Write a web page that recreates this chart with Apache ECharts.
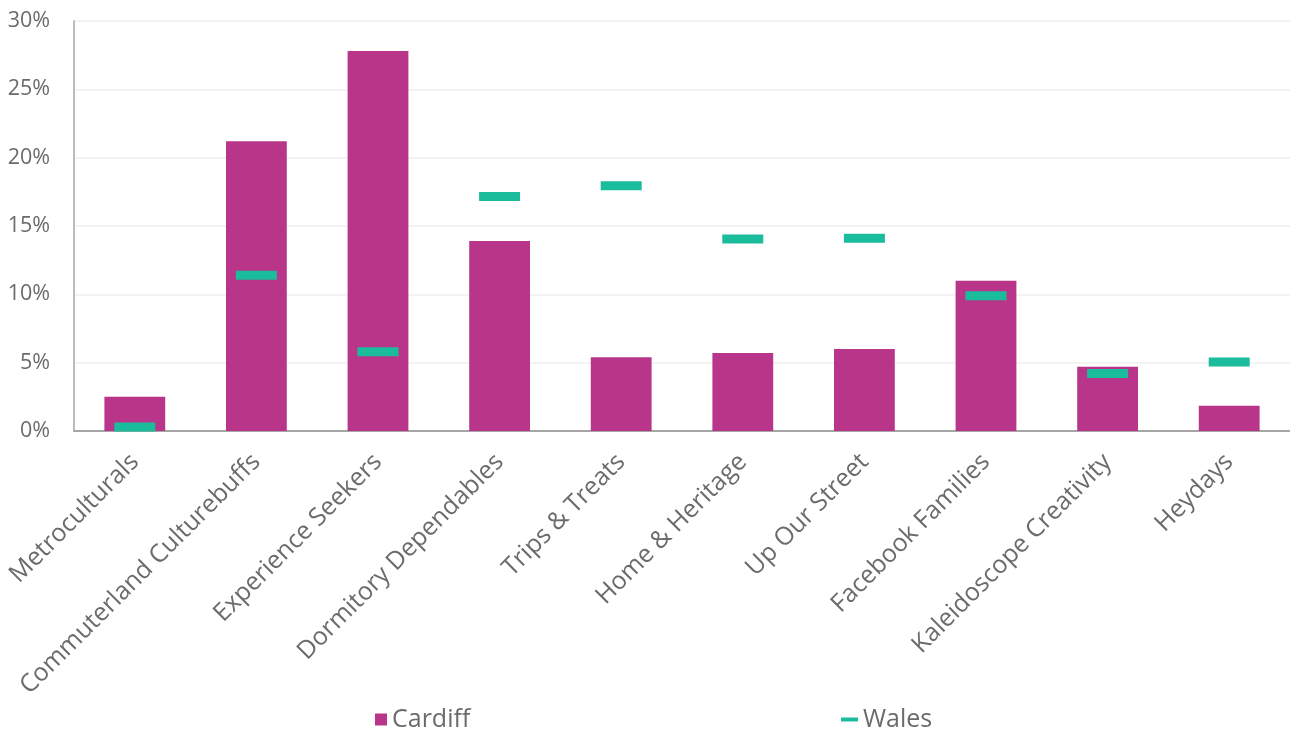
<!DOCTYPE html>
<html>
<head>
<meta charset="utf-8">
<script src="https://cdn.jsdelivr.net/npm/echarts@6/dist/echarts.min.js"></script>
<style>
html,body{margin:0;padding:0;background:#fff;}
#chart{width:1290px;height:731px;}
</style>
</head>
<body>
<div id="chart"></div>
<script>
const categories = ["Metroculturals","Commuterland Culturebuffs","Experience Seekers","Dormitory Dependables","Trips & Treats","Home & Heritage","Up Our Street","Facebook Families","Kaleidoscope Creativity","Heydays"];
const cardiff = [2.5, 21.2, 27.8, 13.9, 5.4, 5.7, 6.0, 11.0, 4.7, 1.85];
const wales = [0.3, 11.4, 5.8, 17.15, 17.95, 14.05, 14.1, 9.9, 4.2, 5.05];
const yTicks = {min: 0, max: 30, interval: 5};

const textColor = '#6b6b6b';
const font = '"Open Sans", sans-serif';
const chart = echarts.init(document.getElementById('chart'));
chart.setOption({
  animation: false,
  backgroundColor: '#ffffff',
  grid: {left: 74, right: 0, top: 21, bottom: 300, containLabel: false},
  legend: [
    {data: ['Cardiff'], left: 370, top: 702, icon: 'rect', itemWidth: 12, itemHeight: 12, itemGap: 6,
     textStyle: {color: textColor, fontSize: 25, fontFamily: font}},
    {data: ['Wales'], left: 836, top: 702, icon: 'rect', itemWidth: 17, itemHeight: 4, itemGap: 6,
     textStyle: {color: textColor, fontSize: 25, fontFamily: font}}
  ],
  xAxis: {
    type: 'category',
    data: categories,
    axisLine: {show: true, lineStyle: {color: '#a6a6a6', width: 2}},
    axisTick: {show: false},
    axisLabel: {rotate: 45, margin: 27, interval: 0, color: textColor, fontSize: 25, fontFamily: font}
  },
  yAxis: {
    type: 'value',
    min: yTicks.min, max: yTicks.max, interval: yTicks.interval,
    axisLine: {show: true, lineStyle: {color: '#a6a6a6', width: 1.5}},
    axisTick: {show: false},
    splitLine: {show: true, lineStyle: {color: '#efefef', width: 1.5}},
    axisLabel: {formatter: '{value}%', margin: 24, color: textColor, fontSize: 21.5, fontFamily: font}
  },
  series: [
    {name: 'Cardiff', type: 'bar', data: cardiff, barWidth: '50%', z: 2,
     itemStyle: {color: '#b8358a'}},
    {name: 'Wales', type: 'scatter', data: wales, symbol: 'rect', symbolSize: [41, 9], z: 3,
     itemStyle: {color: '#1abc9c', opacity: 1}}
  ]
});
</script>
</body>
</html>
